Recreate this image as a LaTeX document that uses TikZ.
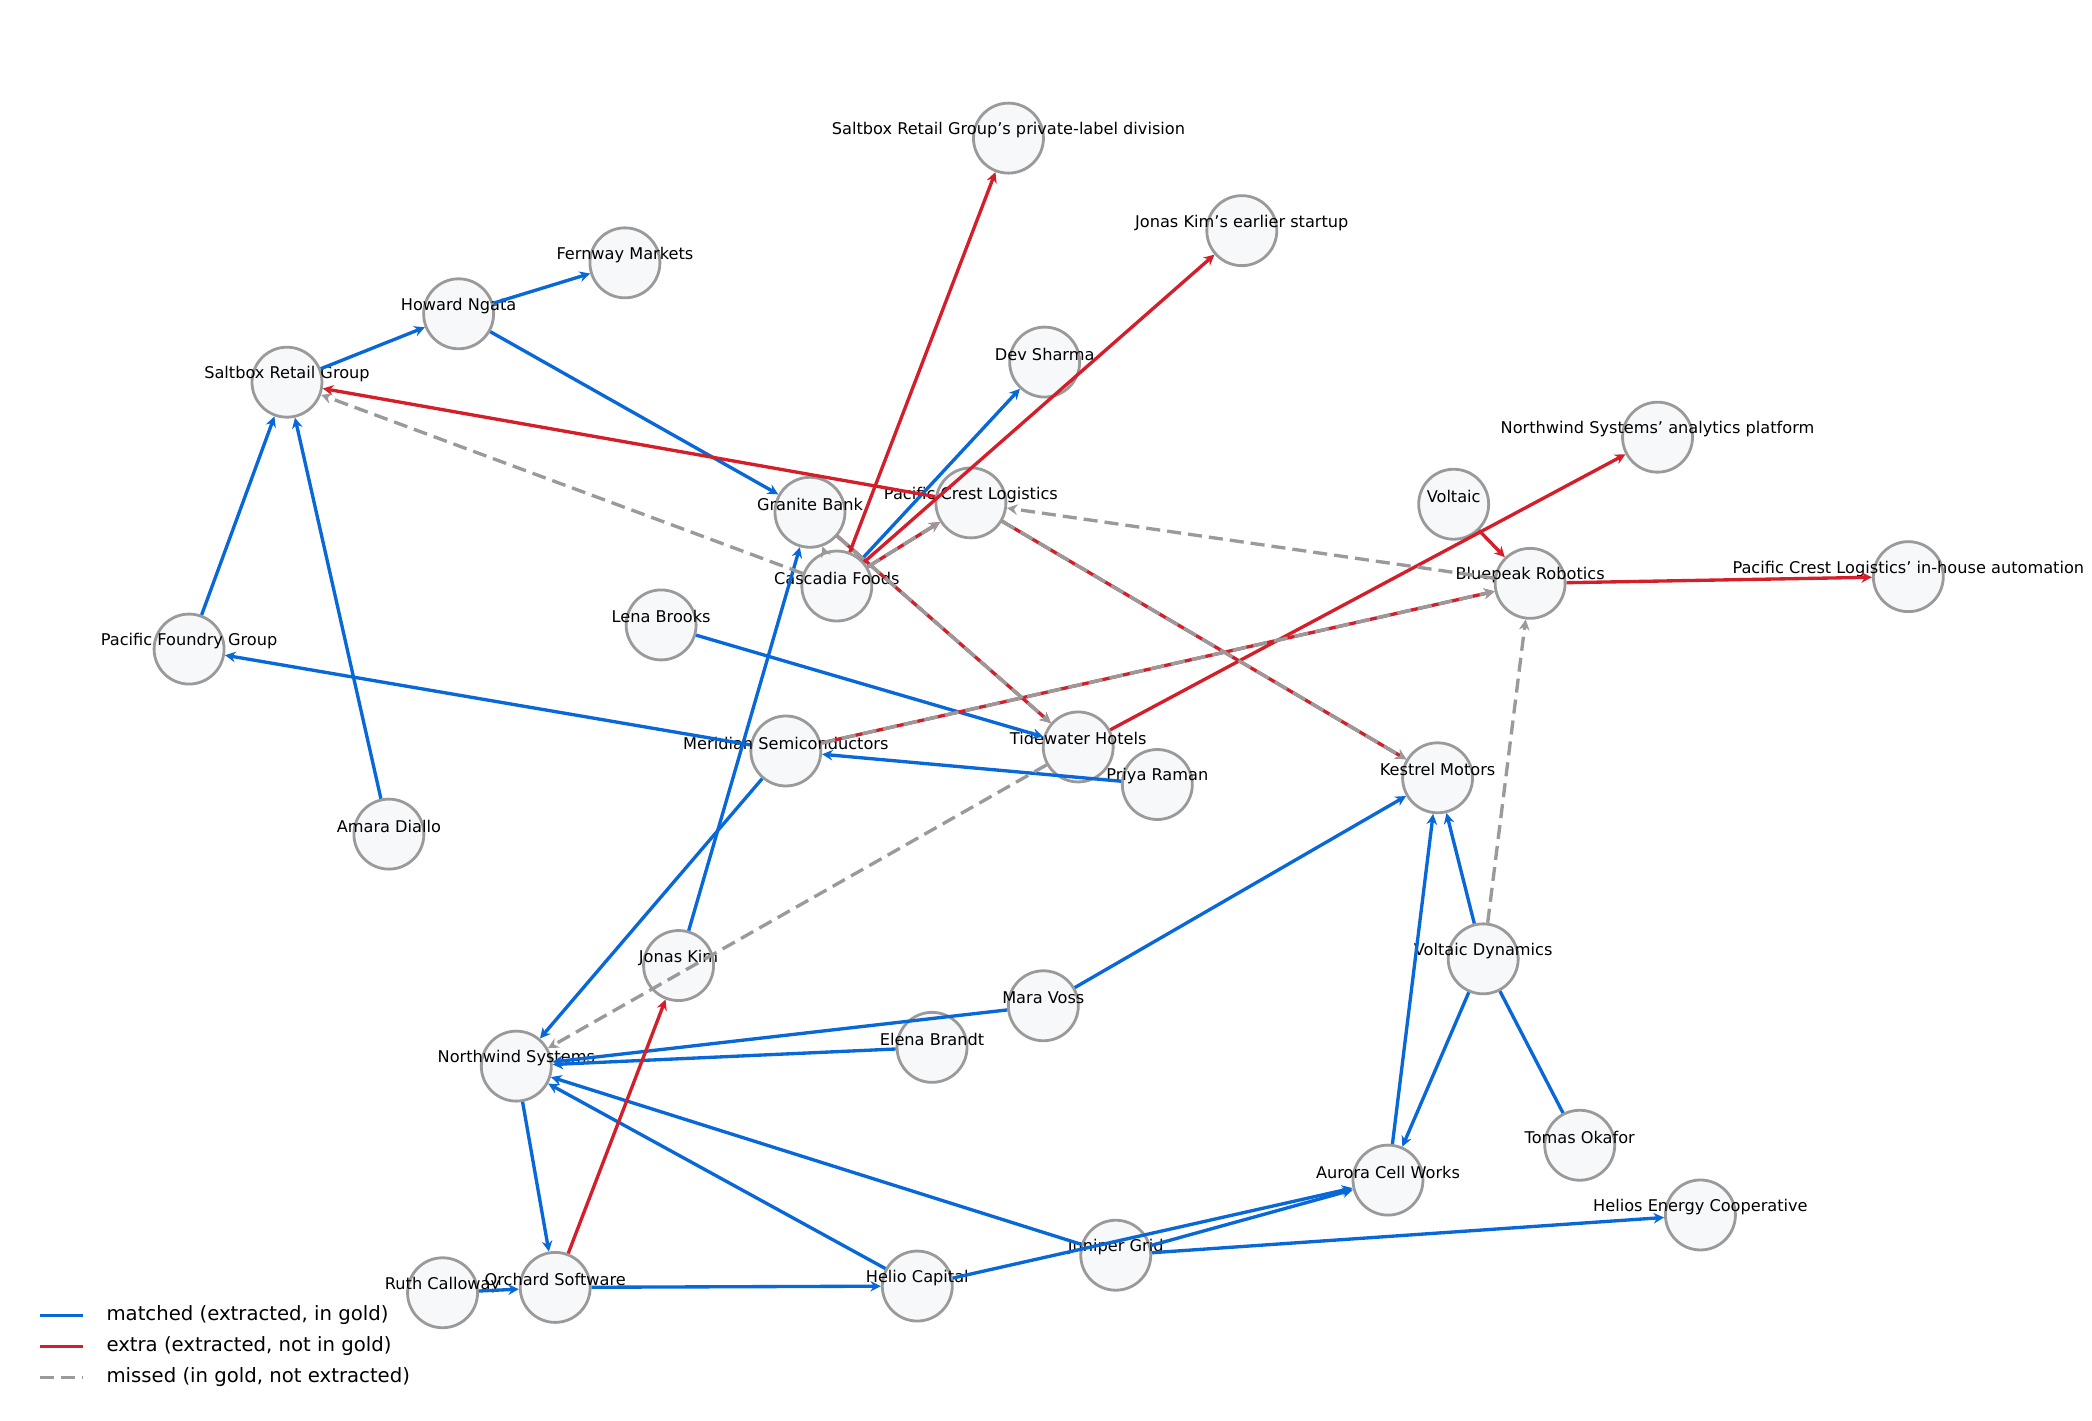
\documentclass[tikz,border=0pt]{standalone}
\usepackage{fontspec}
\setmainfont{DejaVu Sans}
\usetikzlibrary{arrows.meta}
\definecolor{matchblue}{HTML}{0868D8}
\definecolor{extrared}{HTML}{D41F2B}
\definecolor{missgray}{HTML}{9A9A9A}
\definecolor{nodefill}{HTML}{F7F8FA}
\begin{document}
\begin{tikzpicture}[x=0.01341cm, y=-0.01341cm,
    ent/.style={circle, draw=missgray, fill=nodefill, line width=0.8pt, minimum size=0.70cm, inner sep=0pt},
    lbl/.style={font=\fontsize{4.6}{5}\selectfont, yshift=0.08cm},
    match/.style={-{Stealth[length=3pt,width=3pt]}, matchblue, line width=0.95pt},
    extra/.style={-{Stealth[length=3pt,width=3pt]}, extrared, line width=0.95pt},
    miss/.style={-{Stealth[length=3pt,width=3pt]}, missgray, line width=0.95pt, dash pattern=on 4pt off 2pt}
]
\useasboundingbox (0,0) rectangle (1560,1059);

% entities
\node[ent, label={[lbl]center:Saltbox Retail Group's private-label division}] (sbxpl) at (752,103) {};
\node[ent, label={[lbl]center:Jonas Kim's earlier startup}] (jkstart) at (926,172) {};
\node[ent, label={[lbl]center:Fernway Markets}] (fernway) at (466,196) {};
\node[ent, label={[lbl]center:Howard Ngata}] (howard) at (342,234) {};
\node[ent, label={[lbl]center:Saltbox Retail Group}] (saltbox) at (214,285) {};
\node[ent, label={[lbl]center:Dev Sharma}] (dev) at (779,270) {};
\node[ent, label={[lbl]center:Northwind Systems' analytics platform}] (nwplat) at (1236,326) {};
\node[ent, label={[lbl]center:Voltaic}] (voltaic) at (1084,376) {};
\node[ent, label={[lbl]center:Granite Bank}] (granite) at (604,382) {};
\node[ent, label={[lbl]center:Cascadia Foods}] (cascadia) at (624,437) {};
\node[ent, label={[lbl]center:Pacific Crest Logistics}] (pcl) at (724,375) {};
\node[ent, label={[lbl]center:Bluepeak Robotics}] (bluepeak) at (1141,435) {};
\node[ent, label={[lbl]center:Pacific Crest Logistics' in-house automation}] (pclauto) at (1423,430) {};
\node[ent, label={[lbl]center:Lena Brooks}] (lena) at (493,466) {};
\node[ent, label={[lbl]center:Pacific Foundry Group}] (foundry) at (141,484) {};
\node[ent, label={[lbl]center:Meridian Semiconductors}] (meridian) at (586,560) {};
\node[ent, label={[lbl]center:Priya Raman}] (priya) at (863,585) {};
\node[ent, label={[lbl]center:Tidewater Hotels}] (tidewater) at (804,557) {};
\node[ent, label={[lbl]center:Kestrel Motors}] (kestrel) at (1072,580) {};
\node[ent, label={[lbl]center:Amara Diallo}] (amara) at (290,622) {};
\node[ent, label={[lbl]center:Voltaic Dynamics}] (vdyn) at (1106,715) {};
\node[ent, label={[lbl]center:Jonas Kim}] (jonas) at (506,720) {};
\node[ent, label={[lbl]center:Mara Voss}] (mara) at (778,750) {};
\node[ent, label={[lbl]center:Elena Brandt}] (elena) at (695,781) {};
\node[ent, label={[lbl]center:Northwind Systems}] (northwind) at (385,795) {};
\node[ent, label={[lbl]center:Tomas Okafor}] (tomas) at (1178,854) {};
\node[ent, label={[lbl]center:Aurora Cell Works}] (aurora) at (1035,880) {};
\node[ent, label={[lbl]center:Helios Energy Cooperative}] (helios) at (1268,906) {};
\node[ent, label={[lbl]center:Juniper Grid}] (juniper) at (832,936) {};
\node[ent, label={[lbl]center:Ruth Calloway}] (ruth) at (330,964) {};
\node[ent, label={[lbl]center:Orchard Software}] (orchard) at (414,960) {};
\node[ent, label={[lbl]center:Helio Capital}] (helio) at (684,959) {};

% matched
\begin{scope}[on background layer/.try]
\draw[match] (howard) -- (fernway);
\draw[match] (saltbox) -- (howard);
\draw[match] (howard) -- (granite);
\draw[match] (foundry) -- (saltbox);
\draw[match] (amara) -- (saltbox);
\draw[match] (cascadia) -- (dev);
\draw[match] (lena) -- (tidewater);
\draw[match] (meridian) -- (foundry);
\draw[match] (priya) -- (meridian);
\draw[match] (jonas) -- (granite);
\draw[match] (meridian) -- (northwind);
\draw[match] (mara) -- (kestrel);
\draw[match] (mara) -- (northwind);
\draw[match] (elena) -- (northwind);
\draw[match] (northwind) -- (orchard);
\draw[match] (helio) -- (northwind);
\draw[match] (juniper) -- (northwind);
\draw[match] (orchard) -- (helio);
\draw[match] (ruth) -- (orchard);
\draw[match] (helio) -- (aurora);
\draw[match] (juniper) -- (aurora);
\draw[match] (juniper) -- (helios);
\draw[match] (aurora) -- (kestrel);
\draw[match] (vdyn) -- (kestrel);
\draw[match] (vdyn) -- (aurora);
\draw[match, -] (vdyn) -- (tomas);

% extra
\draw[extra] (cascadia) -- (sbxpl);
\draw[extra] (cascadia) -- (jkstart);
\draw[extra] (pcl) -- (saltbox);
\draw[extra] (tidewater) -- (nwplat);
\draw[extra] (voltaic) -- (bluepeak);
\draw[extra] (bluepeak) -- (pclauto);
\draw[extra] (orchard) -- (jonas);
\draw[extra] (cascadia) -- (pcl);
\draw[extra] (granite) -- (tidewater);
\draw[extra] (pcl) -- (kestrel);
\draw[extra] (meridian) -- (bluepeak);

% missed
\draw[miss] (cascadia) -- (saltbox);
\draw[miss] (bluepeak) -- (pcl);
\draw[miss] (vdyn) -- (bluepeak);
\draw[miss] (tidewater) -- (northwind);
\draw[miss] (cascadia) -- (granite);
\draw[miss] (cascadia) -- (pcl);
\draw[miss] (granite) -- (tidewater);
\draw[miss] (pcl) -- (kestrel);
\draw[miss] (meridian) -- (bluepeak);
\end{scope}

% legend
\coordinate (lga) at (30,981); \coordinate (lgb) at (62,981);
\coordinate (lgc) at (30,1004); \coordinate (lgd) at (62,1004);
\coordinate (lge) at (30,1027); \coordinate (lgf) at (62,1027);
\draw[match, -] (lga) -- (lgb) node[right, black, font=\fontsize{5.6}{6}\selectfont, xshift=0.1cm] {matched (extracted, in gold)};
\draw[extra, -] (lgc) -- (lgd) node[right, black, font=\fontsize{5.6}{6}\selectfont, xshift=0.1cm] {extra (extracted, not in gold)};
\draw[miss, -] (lge) -- (lgf) node[right, black, font=\fontsize{5.6}{6}\selectfont, xshift=0.1cm] {missed (in gold, not extracted)};
\end{tikzpicture}
\end{document}
